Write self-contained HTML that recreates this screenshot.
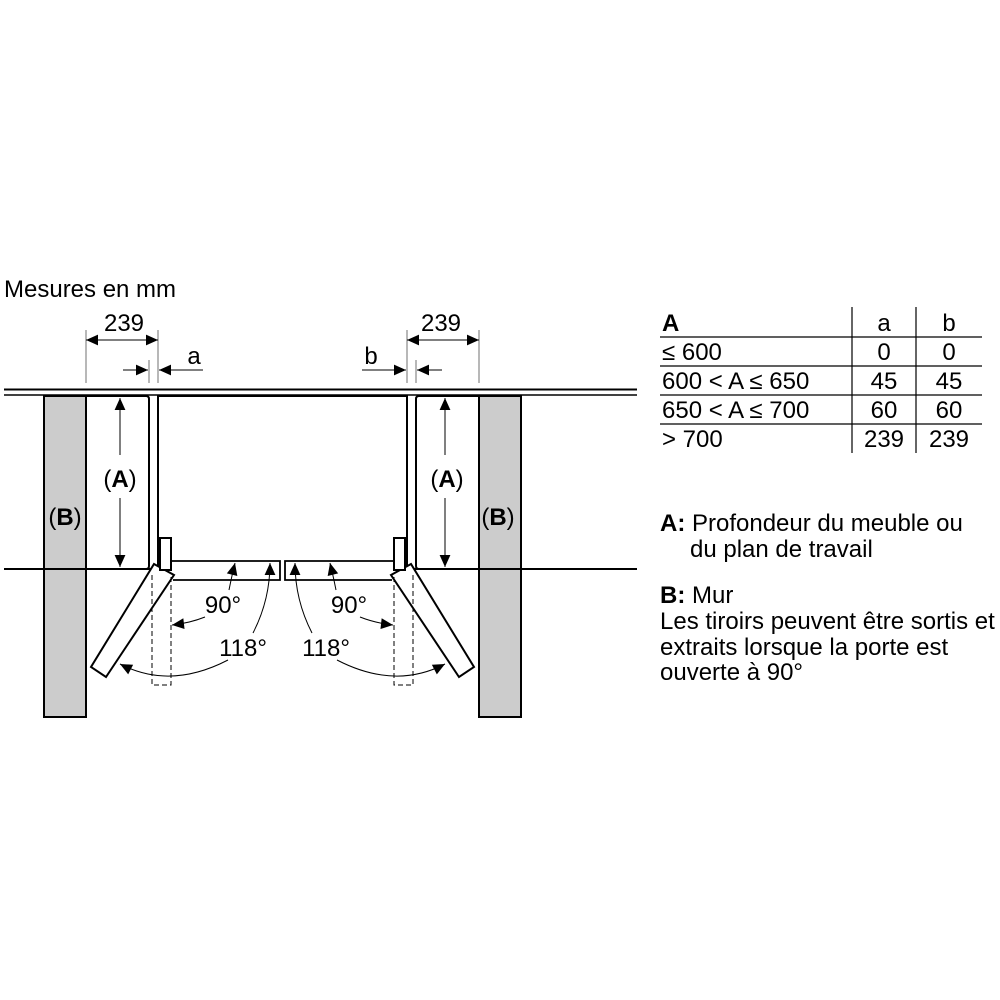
<!DOCTYPE html>
<html><head><meta charset="utf-8"><style>
body{margin:0;background:#fff;}
svg{display:block;font-family:"Liberation Sans",Arial,sans-serif;}
</style></head><body>
<svg width="1000" height="1000" viewBox="0 0 1000 1000" xmlns="http://www.w3.org/2000/svg">
<defs>
<marker id="ar" viewBox="0 0 10 10" refX="10" refY="5" markerWidth="14" markerHeight="12" markerUnits="userSpaceOnUse" orient="auto"><path d="M0,0.5 L10,5 L0,9.5 z" fill="#000"/></marker>
<marker id="ars" viewBox="0 0 10 10" refX="0" refY="5" markerWidth="14" markerHeight="12" markerUnits="userSpaceOnUse" orient="auto"><path d="M10,0.5 L0,5 L10,9.5 z" fill="#000"/></marker>
<g id="side" fill="none" stroke="#000">
  <rect x="44" y="396" width="42" height="321" fill="#ccc" stroke-width="2"/>
  <path d="M86,396 H146 Q149,396 149,399 V566 Q149,569 146,569" stroke-width="2"/>
  <line x1="4" y1="569" x2="158" y2="569" stroke-width="2"/>
  <path d="M158,569 V396 H282.5" stroke-width="2"/>
  <polygon points="154,564 174,575 106,677 91,667" fill="#fff" stroke-width="2"/>
  <rect x="160" y="538" width="11" height="32" fill="#fff" stroke-width="2"/>
  <path d="M171,561 H280 V580 H173" stroke-width="1.8"/>
  <path d="M152,575 V685 H171 V575" stroke-width="1" stroke-dasharray="5,3"/>
  <line x1="86" y1="330" x2="86" y2="383" stroke="#888" stroke-width="1.2"/>
  <line x1="158" y1="330" x2="158" y2="383" stroke="#888" stroke-width="1.2"/>
  <line x1="149" y1="360" x2="149" y2="383" stroke="#888" stroke-width="1.2"/>
  <line x1="86" y1="340" x2="158" y2="340" stroke="#000" stroke-width="1" marker-start="url(#ars)" marker-end="url(#ar)"/>
  <line x1="123" y1="370" x2="148" y2="370" stroke-width="1" marker-end="url(#ar)"/>
  <line x1="203" y1="370" x2="159" y2="370" stroke-width="1" marker-end="url(#ar)"/>
  <line x1="120" y1="455" x2="120" y2="398" stroke-width="1" marker-end="url(#ar)"/>
  <line x1="120" y1="498" x2="120" y2="567" stroke-width="1" marker-end="url(#ar)"/>
  <path d="M229,590 Q232,575 235,563" stroke-width="1" marker-end="url(#ar)"/>
  <path d="M205,617 Q190,623 172,625" stroke-width="1" marker-end="url(#ar)"/>
  <path d="M253,633 Q270,600 270,563" stroke-width="1" marker-end="url(#ar)"/>
  <path d="M228,660 Q170,690 120,664" stroke-width="1" marker-end="url(#ar)"/>
</g>
</defs>
<line x1="4" y1="389.5" x2="637" y2="389.5" stroke="#000" stroke-width="2"/>
<line x1="4" y1="395" x2="637" y2="395" stroke="#000" stroke-width="1.5"/>
<use href="#side"/>
<use href="#side" transform="translate(565,0) scale(-1,1)"/>
<line x1="416" y1="569" x2="637" y2="569" stroke="#000" stroke-width="2"/>
<g font-size="24" fill="#000">
<text x="4" y="297">Mesures en mm</text>
<text x="124" y="331" text-anchor="middle">239</text>
<text x="441" y="331" text-anchor="middle">239</text>
<text x="194" y="364" text-anchor="middle">a</text>
<text x="371" y="364" text-anchor="middle">b</text>
<text x="120" y="487" text-anchor="middle">(<tspan font-weight="bold">A</tspan>)</text>
<text x="447" y="487" text-anchor="middle">(<tspan font-weight="bold">A</tspan>)</text>
<text x="65" y="525" text-anchor="middle">(<tspan font-weight="bold">B</tspan>)</text>
<text x="498" y="525" text-anchor="middle">(<tspan font-weight="bold">B</tspan>)</text>
<text x="223" y="613" text-anchor="middle">90°</text>
<text x="349" y="613" text-anchor="middle">90°</text>
<text x="243" y="656" text-anchor="middle">118°</text>
<text x="326" y="656" text-anchor="middle">118°</text>
</g>
<g stroke="#000" stroke-width="1.2">
<line x1="660" y1="337" x2="982" y2="337"/>
<line x1="660" y1="366" x2="982" y2="366"/>
<line x1="660" y1="395" x2="982" y2="395"/>
<line x1="660" y1="424" x2="982" y2="424"/>
<line x1="852" y1="307" x2="852" y2="453"/>
<line x1="916" y1="307" x2="916" y2="453"/>
</g>
<g font-size="24" fill="#000">
<text x="662" y="331" font-weight="bold">A</text>
<text x="884" y="331" text-anchor="middle">a</text>
<text x="949" y="331" text-anchor="middle">b</text>
<text x="662" y="360">≤ 600</text>
<text x="884" y="360" text-anchor="middle">0</text>
<text x="949" y="360" text-anchor="middle">0</text>
<text x="662" y="389">600 &lt; A ≤ 650</text>
<text x="884" y="389" text-anchor="middle">45</text>
<text x="949" y="389" text-anchor="middle">45</text>
<text x="662" y="418">650 &lt; A ≤ 700</text>
<text x="884" y="418" text-anchor="middle">60</text>
<text x="949" y="418" text-anchor="middle">60</text>
<text x="662" y="447">&gt; 700</text>
<text x="884" y="447" text-anchor="middle">239</text>
<text x="949" y="447" text-anchor="middle">239</text>
<text x="660" y="531"><tspan font-weight="bold">A:</tspan> Profondeur du meuble ou</text>
<text x="690" y="557">du plan de travail</text>
<text x="660" y="603"><tspan font-weight="bold">B:</tspan> Mur</text>
<text x="660" y="629">Les tiroirs peuvent être sortis et</text>
<text x="660" y="655">extraits lorsque la porte est</text>
<text x="660" y="680">ouverte à 90°</text>
</g>
</svg>
</body></html>
